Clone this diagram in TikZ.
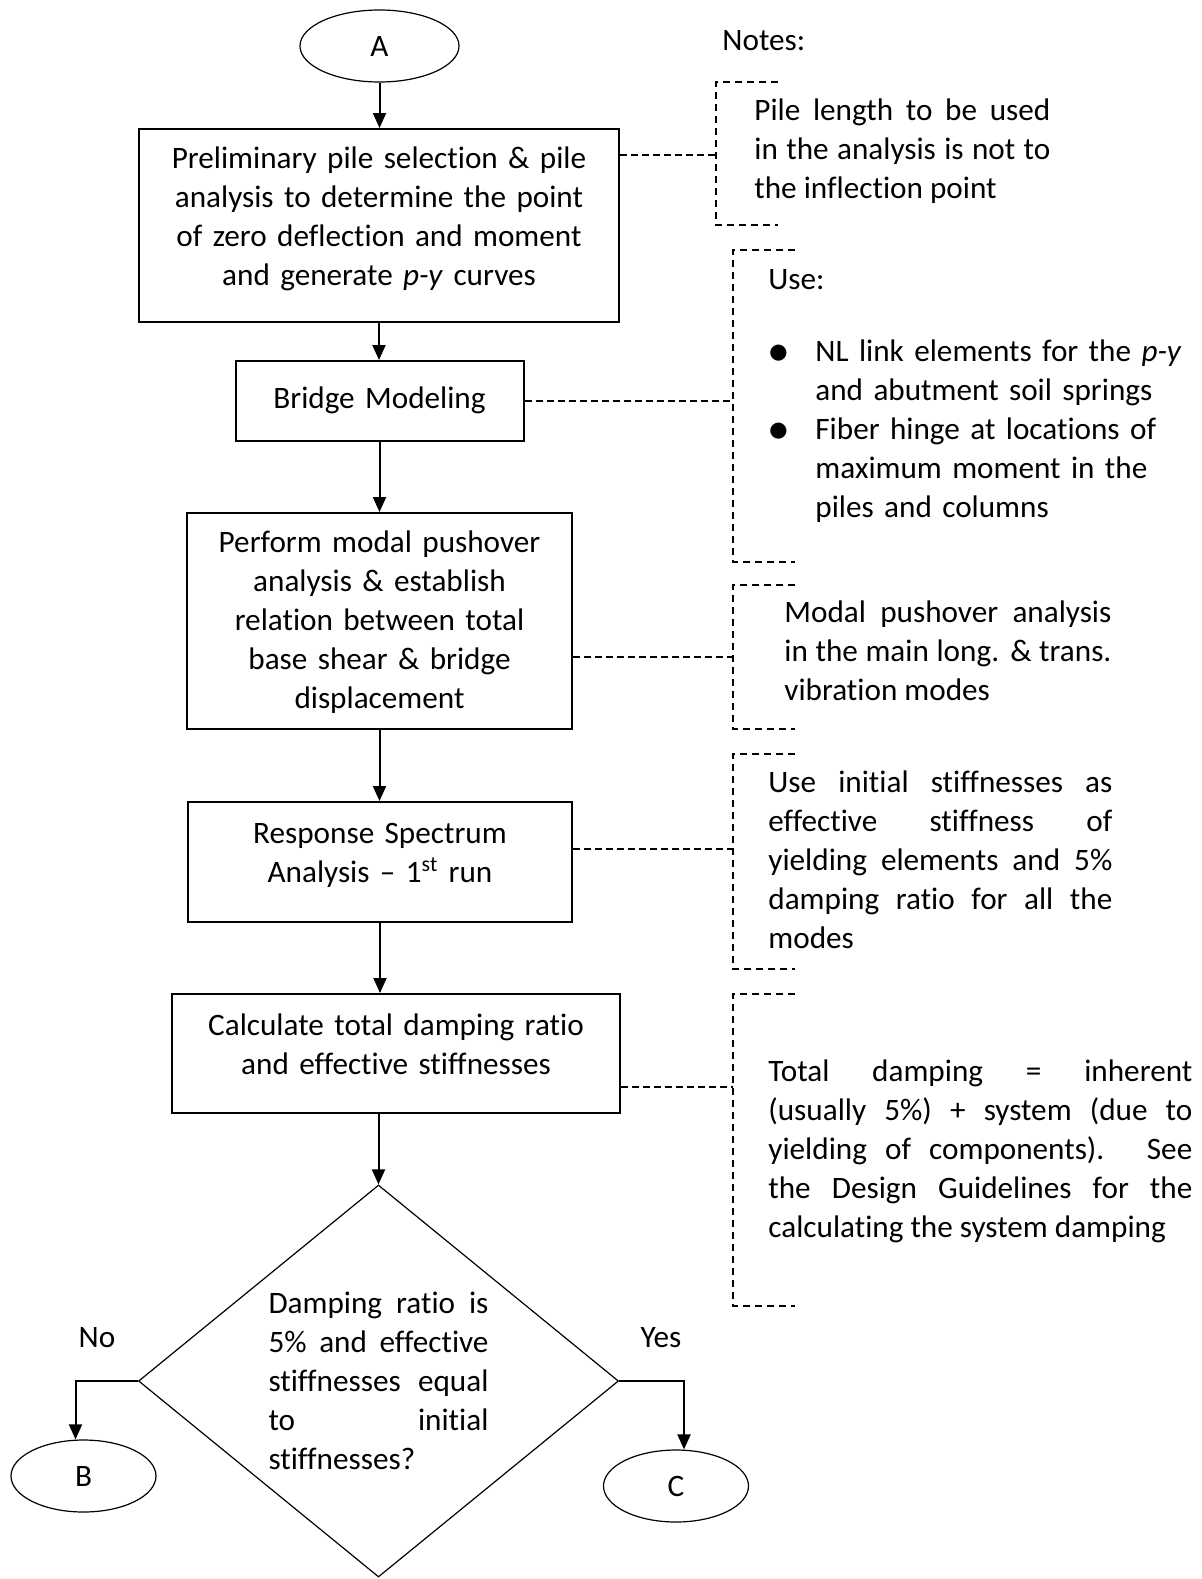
\documentclass[tikz,border=0pt]{standalone}
\usepackage{fontspec}
\setmainfont{Carlito}[Ligatures={TeX,NoCommon}]
\usetikzlibrary{arrows.meta,shapes.geometric}
\tikzset{
  process box/.style={draw,line width=1pt,align=center,inner sep=0pt},
  decision box/.style={diamond,draw,line width=0.6pt,inner sep=0pt,shape aspect=1.22,minimum width=240pt,minimum height=196pt,align=justify,text width=110pt,execute at begin node={\tolerance=10000\hbadness=10000}},
  connector oval/.style={ellipse,draw,line width=0.6pt,inner sep=0pt,minimum width=72.5pt,minimum height=36pt},
  flow line/.style={line width=1pt,-{Triangle[length=7.5pt,width=6.5pt]}},
  note link/.style={line width=0.9pt,dash pattern=on 3.5pt off 2pt},
  note bracket/.style={line width=0.9pt,dash pattern=on 3.5pt off 2.5pt},
  note text/.style={anchor=base west,inner sep=0pt,align=justify,execute at begin node={\tolerance=10000\hbadness=10000}},
  answer label/.style={anchor=base,inner sep=0pt},
}
\newcommand{\drawNoteBracket}[3]{
\draw[note bracket] (#1,#2) ++(62,0) -- (#1,#2) -- (#1,#3) -- ++(62,0);
}
\newcommand{\noteBullet}{\makebox[23.5pt][l]{\raisebox{-1.2pt}{\fontsize{22}{19.5}\selectfont$\bullet$}}}

\begin{document}
\begin{tikzpicture}[x=0.5pt,y=-0.5pt,font=\fontsize{15.6}{19.5}\selectfont]
\useasboundingbox (0,0) rectangle (1202,1579);
% main flow
\node[connector oval,minimum width=79.5pt] (A) at (379.5,46) {A};
\node[process box,text width=240pt,text height=19.75pt,text depth=76.75pt] (prelim) at (379,225.5) {Preliminary pile selection \& pile\\analysis to determine the point\\of zero deflection and moment\\and generate \textit{p-y} curves};
\node[process box,text width=144pt,text height=23.5pt,text depth=16.5pt] (bridge) at (379.5,401) {Bridge Modeling};
\node[process box,text width=192.5pt,text height=19.5pt,text depth=88.5pt] (pushover) at (379.5,621) {Perform modal pushover\\analysis \& establish\\relation between total\\base shear \& bridge\\displacement};
\node[process box,text width=192pt,text height=20.5pt,text depth=39.5pt] (spectrum) at (380,862) {Response Spectrum\\Analysis -- 1\textsuperscript{st} run};
\node[process box,text width=224pt,text height=20.5pt,text depth=39pt] (damping) at (396,1053.5) {Calculate total damping ratio\\and effective stiffnesses};
\node[decision box] (check) at (378.5,1381) {Damping ratio is\linebreak 5\% and effective\linebreak stiffnesses equal\linebreak to initial\linebreak stiffnesses?};
\node[connector oval] (B) at (83.5,1476) {B};
\node[connector oval] (C) at (676,1486) {C};
\node[answer label] (no) at (97,1347) {No};
\node[answer label] (yes) at (661,1347) {Yes};

\draw[flow line] (A.south) -- (A.south |- prelim.north);
\draw[flow line] (prelim.south) -- (prelim.south |- bridge.north);
\draw[flow line] (bridge.south) -- (bridge.south |- pushover.north);
\draw[flow line] (pushover.south) -- (pushover.south |- spectrum.north);
\draw[flow line] (spectrum.south) -- (spectrum.south |- damping.north);
\draw[flow line] (damping.south -| check.north) -- (check.north);
\draw[flow line] (check.west) -| ([xshift=-4pt]B.north);
\draw[flow line] (check.east) -| ([xshift=4pt]C.north);

% notes
\node[anchor=base west,inner sep=0pt] (notes) at (722,50) {Notes:};
\drawNoteBracket{716}{82}{225}
\drawNoteBracket{733}{250}{562}
\drawNoteBracket{733}{585}{729}
\drawNoteBracket{733}{754}{969}
\drawNoteBracket{733}{994}{1306}
\coordinate (n1) at (716,155);
\coordinate (n2) at (733,401);
\coordinate (n3) at (733,657);
\coordinate (n4) at (733,849);
\coordinate (n5) at (733,1087);
\draw[note link] (prelim.east |- n1) -- (n1);
\draw[note link] (bridge.east |- n2) -- (n2);
\draw[note link] (pushover.east |- n3) -- (n3);
\draw[note link] (spectrum.east |- n4) -- (n4);
\draw[note link] (damping.east |- n5) -- (n5);

\node[note text,text width=148pt] (pileNote) at (754,120) {Pile length to be used\linebreak in the analysis is not to\linebreak the inflection point};
\node[anchor=base west,inner sep=0pt] (useLabel) at (768,289) {Use:};
\node[anchor=base west,inner sep=0pt,text width=230pt,align=left] (useList) at (768,361) {\noteBullet NL link elements for the \mbox{\textit{p-y}}\\\hspace*{23.5pt}and abutment soil springs\\\noteBullet Fiber hinge at locations of\\\hspace*{23.5pt}maximum moment in the\\\hspace*{23.5pt}piles and columns};
\node[note text,text width=163.5pt] (modalNote) at (784,622) {Modal pushover analysis\linebreak in the main long. \& trans.\linebreak vibration modes};
\node[note text,text width=172pt] (stiffNote) at (768,792) {Use initial stiffnesses as\linebreak effective stiffness of\linebreak yielding elements and 5\%\linebreak damping ratio for all the\linebreak modes};
\node[note text,text width=212pt] (dampNote) at (768,1081) {Total damping = inherent\linebreak (usually 5\%) + system (due to\linebreak yielding of components). See\linebreak the Design Guidelines for the\linebreak calculating the system damping};
\end{tikzpicture}
\end{document}
